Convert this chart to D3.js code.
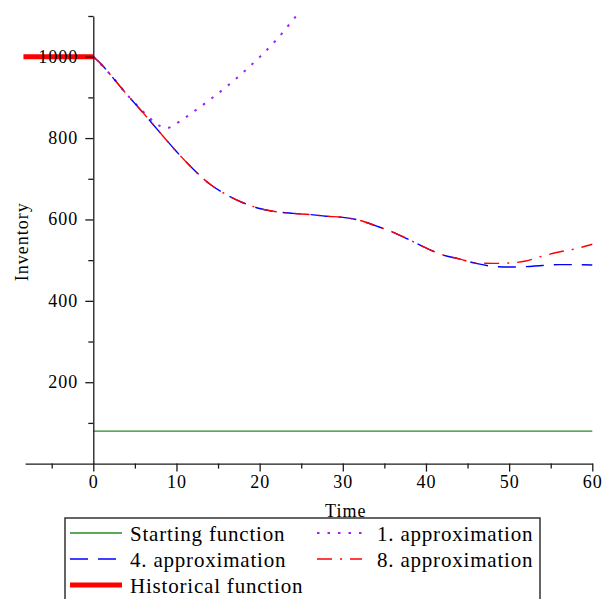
<!DOCTYPE html>
<html>
<head>
<meta charset="utf-8">
<script src="https://cdn.jsdelivr.net/npm/d3@7"></script>
<style>
  html, body { margin: 0; padding: 0; background: #fff; }
  svg { display: block; }
  text { font-family: "Liberation Serif", "Times New Roman", serif; fill: #000; }
</style>
</head>
<body>
<svg id="chart" width="611" height="599"></svg>
<script>
// ---- data ----
const xTickValues = [0, 10, 20, 30, 40, 50, 60];
const xMinorTicks = [-5, 5, 15, 25, 35, 45, 55];
const yTickValues = [200, 400, 600, 800, 1000];
const yMinorTicks = [100, 300, 500, 700, 900, 1100];

const startT = [0, 60];
const startV = [80, 80];

const histT = [-8.4, 0];
const histV = [1000, 1000];

const approx1T = [0, 2, 4, 6, 7, 8, 8.8, 10, 12, 14, 16, 18, 20, 22, 24, 25];
const approx1V = [1000, 957, 908, 865, 845, 830, 824, 836, 864, 894, 926, 961, 999, 1041, 1090, 1115];

const approx4T = [0, 1, 2, 4, 6, 8, 10, 12, 14, 16, 18, 20, 22, 24, 26, 28, 30, 32, 34, 36, 38, 40, 42, 44, 46, 48, 50, 52, 54, 56, 58, 60];
const approx4V = [1000, 981, 957, 908, 862, 814, 767, 724, 687, 661, 641, 627, 619, 615, 612, 608, 605, 598, 584, 569, 550, 530, 513, 503, 492, 485, 483, 484, 487, 489, 489, 488];

const approx8T = [0, 1, 2, 4, 6, 8, 10, 12, 14, 16, 18, 20, 22, 24, 26, 28, 30, 32, 34, 36, 38, 40, 42, 44, 46, 48, 50, 52, 54, 56, 58, 60];
const approx8V = [1000, 981, 957, 908, 862, 814, 767, 724, 687, 661, 641, 627, 619, 615, 612, 608, 605, 598, 584, 569, 550, 530, 513, 503, 493, 492, 493, 498, 510, 520, 528, 539];

const legendNames = ["Starting function", "1. approximation", "4. approximation", "8. approximation", "Historical function"];

// ---- chart ----
const svg = d3.select("#chart");
const x = d3.scaleLinear().domain([-8.2, 60]).range([25.1, 592.3]);
const y = d3.scaleLinear().domain([0, 1100]).range([463.6, 16]);

const zip = (ts, vs) => ts.map((t, i) => [t, vs[i]]);
const line = d3.line().x(d => x(d[0])).y(d => y(d[1])).curve(d3.curveMonotoneX);

svg.append("clipPath").attr("id", "clip")
  .append("rect")
  .attr("x", x(-8.6)).attr("y", y(1100))
  .attr("width", x(60) - x(-8.6) + 1).attr("height", y(0) - y(1100));

const series = [
  { name: legendNames[0], data: zip(startT, startV), color: "#228b22", width: 1.3, dash: null },
  { name: legendNames[1], data: zip(approx1T, approx1V), color: "#a020f0", width: 2, dash: "2.5,8" },
  { name: legendNames[2], data: zip(approx4T, approx4V), color: "#0000ff", width: 1.4, dash: "18,10" },
  { name: legendNames[3], data: zip(approx8T, approx8V), color: "#ff0000", width: 1.4, dash: "15,8,2,8" },
  { name: legendNames[4], data: zip(histT, histV), color: "#ff0000", width: 5, dash: null }
];

// series (drawn first so tick labels sit on top)
const plotG = svg.append("g").attr("clip-path", "url(#clip)");
series.forEach(s => {
  plotG.append("path").datum(s.data)
    .attr("d", line)
    .attr("fill", "none")
    .attr("stroke", s.color)
    .attr("stroke-width", s.width)
    .attr("stroke-dasharray", s.dash)
    .attr("stroke-linecap", "butt");
});

// axes
const axisColor = "#1a1a1a";
const fmt = d3.format("d");
const xAxisG = svg.append("g").attr("transform", `translate(0,${y(0)})`);
xAxisG.call(d3.axisBottom(x).tickValues(xTickValues).tickFormat(fmt).tickSize(8).tickSizeOuter(0).tickPadding(4));
const xMinorG = svg.append("g").attr("transform", `translate(0,${y(0)})`);
xMinorG.call(d3.axisBottom(x).tickValues(xMinorTicks).tickSize(5).tickFormat(""));
xMinorG.select(".domain").remove();

const yAxisG = svg.append("g").attr("transform", `translate(${x(0)},0)`);
yAxisG.call(d3.axisLeft(y).tickValues(yTickValues).tickFormat(fmt).tickSize(8).tickSizeOuter(0).tickPadding(7));
const yMinorG = svg.append("g").attr("transform", `translate(${x(0)},0)`);
yMinorG.call(d3.axisLeft(y).tickValues(yMinorTicks).tickSize(5).tickFormat(""));
yMinorG.select(".domain").remove();

svg.selectAll(".domain, .tick line").attr("stroke", axisColor).attr("stroke-width", 1.3);
svg.selectAll(".tick text")
  .attr("font-family", "Liberation Serif, Times New Roman, serif")
  .attr("font-size", 18).attr("letter-spacing", 1).attr("fill", "#000");
yAxisG.selectAll(".tick text").attr("dy", "0.3em");

// axis titles
svg.append("text").attr("x", x(30) + 3).attr("y", 517)
  .attr("text-anchor", "middle").attr("font-size", 18).attr("letter-spacing", 1)
  .text("Time");
svg.append("text")
  .attr("transform", `translate(28,${(y(0) + y(1100)) / 2 + 2}) rotate(-90)`)
  .attr("text-anchor", "middle").attr("font-size", 18).attr("letter-spacing", 1)
  .text("Inventory");

// legend
const legend = svg.append("g");
legend.append("rect").attr("x", 65).attr("y", 518).attr("width", 475).attr("height", 100)
  .attr("fill", "#fff").attr("stroke", "#333").attr("stroke-width", 1.5);
const legendPos = [
  { col: 0, row: 0 }, { col: 1, row: 0 }, { col: 0, row: 1 }, { col: 1, row: 1 }, { col: 0, row: 2 }
];
const colX = [{ l1: 70, l2: 122, tx: 130 }, { l1: 317, l2: 362, tx: 377 }];
series.forEach((s, i) => {
  const p = legendPos[i];
  const cy = 533 + p.row * 26;
  const c = colX[p.col];
  legend.append("line")
    .attr("x1", c.l1).attr("x2", c.l2).attr("y1", cy).attr("y2", cy)
    .attr("stroke", s.color).attr("stroke-width", s.width)
    .attr("stroke-dasharray", s.dash);
  legend.append("text").attr("x", c.tx).attr("y", cy + 8)
    .attr("font-size", 21).attr("letter-spacing", 0.8)
    .text(s.name);
});
</script>
</body>
</html>
